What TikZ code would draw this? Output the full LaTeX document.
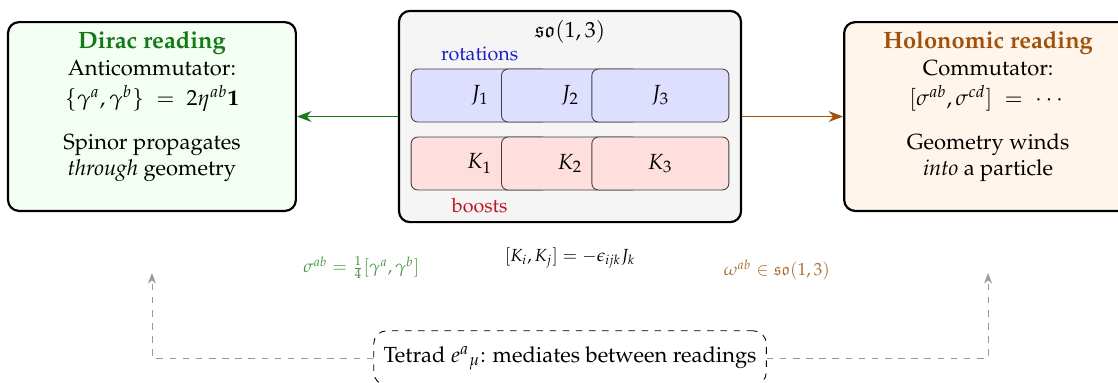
\documentclass[tikz,border=0pt]{standalone}
\usepackage[T1]{fontenc}
\usepackage{mathpazo}
\usepackage{amsmath,amssymb}
\usepackage{xcolor}
\usetikzlibrary{arrows.meta,positioning}
\definecolor{diracgreen}{HTML}{137A17}
\definecolor{holobrown}{HTML}{A0520D}
\definecolor{rotblue}{HTML}{1E1EC8}
\definecolor{boostred}{HTML}{C0141E}

\begin{document}
\begin{tikzpicture}[node distance=1.62cm,
    reading/.style={draw,rounded corners=5pt,line width=1pt,minimum width=4.62cm,minimum height=3.03cm},
    gen/.style={draw=black!75,rounded corners=3pt,minimum width=2.2cm,minimum height=0.85cm,fill=#1!13},
    link/.style={line width=0.8pt,-{Stealth}},
    tetarrow/.style={draw=black!40,dashed,-{Stealth}}]
  \useasboundingbox (-9.149,-4.277) rectangle (8.795,1.870);
  % the algebra in the middle
  \node[draw,rounded corners=5pt,line width=1pt,fill=black!4,minimum width=5.49cm,minimum height=3.39cm] (so) at (0,0) {};
  \node[below=0.5mm of so.north] (sotitle) {$\mathfrak{so}(1,3)$};
  \foreach \i/\x in {1/-1.45,2/0,3/1.45} \node[gen=blue] (J\i) at (\x,0.337) {$J_\i$};
  \foreach \i/\x in {1/-1.45,2/0,3/1.45} \node[gen=red] (K\i) at (\x,-0.754) {$K_\i$};
  \node[font=\small,text=rotblue,above=0pt of J1] (rot) {rotations};
  \node[font=\small,text=boostred,below=0pt of K1] (boo) {boosts};

  % the two readings
  \node[reading,fill=green!5,left=of so] (dirac) {};
  \node[below=0.5mm of dirac.north,align=center] (diractxt) {{\fontsize{10.8}{13}\selectfont\bfseries\color{diracgreen}Dirac reading}\\ Anticommutator:\\[2pt] $\{\gamma^a,\gamma^b\}\;=\;2\eta^{ab}\mathbf{1}$\\[8pt] Spinor propagates\\ \emph{through} geometry};
  \node[reading,fill=orange!8,right=of so] (holo) {};
  \node[below=0.5mm of holo.north,align=center] (holotxt) {{\fontsize{10.8}{13}\selectfont\bfseries\color{holobrown}Holonomic reading}\\ Commutator:\\[2pt] $[\sigma^{ab},\sigma^{cd}]\;=\;\cdots$\\[8pt] Geometry winds\\ \emph{into} a particle};
  \draw[link,diracgreen] (so.west) -- (dirac.east);
  \draw[link,holobrown] (so.east) -- (holo.west);

  % relations under the boxes
  \node[font=\footnotesize,text=diracgreen!80] (sigma) at (-3.35,-2.43) {$\sigma^{ab}=\frac14[\gamma^a,\gamma^b]$};
  \node[font=\footnotesize] (comm) at (0,-2.27) {$[K_i,K_j]=-\epsilon_{ijk}J_k$};
  \node[font=\footnotesize,text=holobrown!85] (omega) at (3.32,-2.46) {$\omega^{ab}\in\mathfrak{so}(1,3)$};

  % tetrad
  \node[draw,dashed,rounded corners=6pt,inner xsep=4.5pt,inner ysep=7pt] (tetrad) at (0,-3.876) {Tetrad $e^a{}_\mu$: mediates between readings};
  \coordinate[below=0.98cm of dirac.south] (dup);
  \coordinate[below=0.98cm of holo.south] (hup);
  \draw[tetarrow] (tetrad.west) -| (dup);
  \draw[tetarrow] (tetrad.east) -| (hup);
\end{tikzpicture}
\end{document}
